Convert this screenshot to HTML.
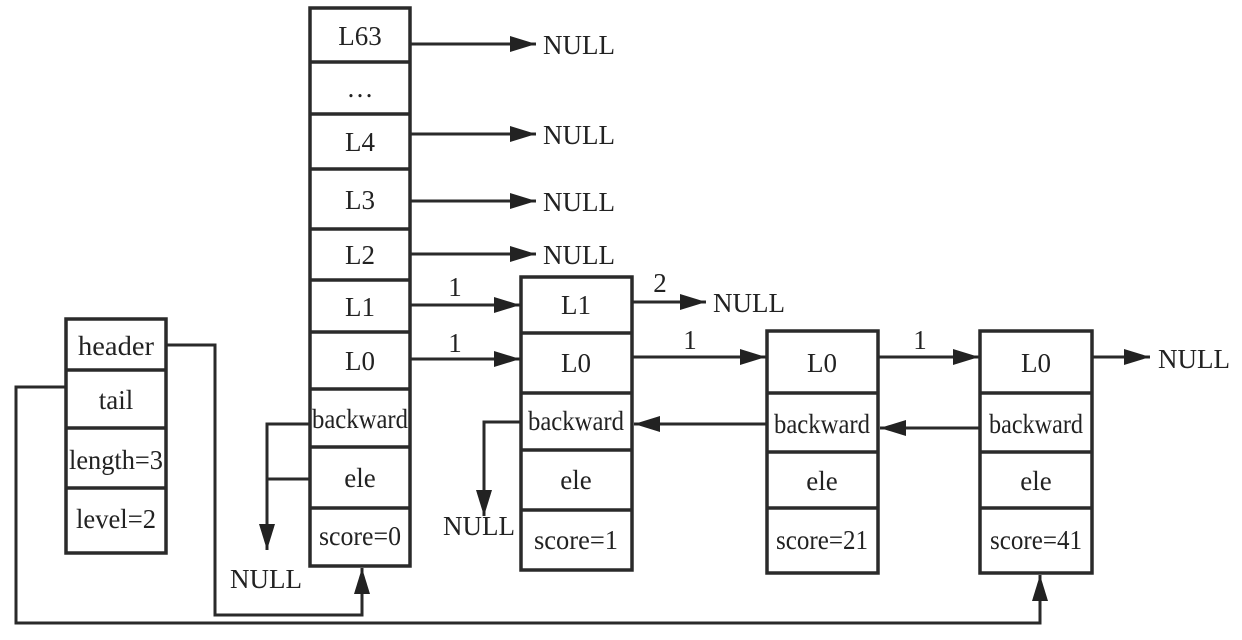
<!DOCTYPE html>
<html><head><meta charset="utf-8"><style>
html,body{margin:0;padding:0;background:#fff;}
svg text{font-family:"Liberation Serif",serif;font-size:27px;fill:#222;}
</style></head><body>
<svg width="1242" height="635" viewBox="0 0 1242 635" xmlns="http://www.w3.org/2000/svg">
<defs>
<marker id="b" viewBox="0 0 26 16" refX="26" refY="8" markerWidth="26" markerHeight="16" orient="auto" markerUnits="userSpaceOnUse">
<path d="M0,0 L26,8 L0,16 z" fill="#222"/></marker>
</defs>
<g stroke="#2a2a2a" stroke-width="3.5" fill="none">
<rect x="66" y="319" width="100" height="234"/>
<line x1="66" y1="370" x2="166" y2="370"/><line x1="66" y1="428" x2="166" y2="428"/><line x1="66" y1="488" x2="166" y2="488"/>
<rect x="310" y="8" width="100" height="558"/>
<line x1="310" y1="62" x2="410" y2="62"/><line x1="310" y1="114" x2="410" y2="114"/><line x1="310" y1="169" x2="410" y2="169"/>
<line x1="310" y1="229" x2="410" y2="229"/><line x1="310" y1="280" x2="410" y2="280"/><line x1="310" y1="332" x2="410" y2="332"/>
<line x1="310" y1="389" x2="410" y2="389"/><line x1="310" y1="447" x2="410" y2="447"/><line x1="310" y1="508" x2="410" y2="508"/>
<rect x="521" y="277" width="111" height="293"/>
<line x1="521" y1="333" x2="632" y2="333"/><line x1="521" y1="393" x2="632" y2="393"/><line x1="521" y1="450" x2="632" y2="450"/><line x1="521" y1="510" x2="632" y2="510"/>
<rect x="767" y="331" width="111" height="242"/>
<line x1="767" y1="393" x2="878" y2="393"/><line x1="767" y1="452" x2="878" y2="452"/><line x1="767" y1="508" x2="878" y2="508"/>
<rect x="980" y="331" width="112" height="242"/>
<line x1="980" y1="393" x2="1092" y2="393"/><line x1="980" y1="452" x2="1092" y2="452"/><line x1="980" y1="508" x2="1092" y2="508"/>
</g>
<g stroke="#2a2a2a" stroke-width="3" fill="none">
<line x1="410" y1="44" x2="536" y2="44" marker-end="url(#b)"/>
<line x1="410" y1="134" x2="536" y2="134" marker-end="url(#b)"/>
<line x1="410" y1="201" x2="536" y2="201" marker-end="url(#b)"/>
<line x1="410" y1="254" x2="536" y2="254" marker-end="url(#b)"/>
<line x1="410" y1="305" x2="520" y2="305" marker-end="url(#b)"/>
<line x1="410" y1="359" x2="520" y2="359" marker-end="url(#b)"/>
<line x1="632" y1="302" x2="706" y2="302" marker-end="url(#b)"/>
<line x1="632" y1="357" x2="766" y2="357" marker-end="url(#b)"/>
<line x1="878" y1="357" x2="979" y2="357" marker-end="url(#b)"/>
<line x1="1092" y1="357" x2="1150" y2="357" marker-end="url(#b)"/>
<line x1="767" y1="424" x2="634" y2="424" marker-end="url(#b)"/>
<line x1="980" y1="428" x2="880" y2="428" marker-end="url(#b)"/>
<polyline points="310,424 267,424 267,550" marker-end="url(#b)"/>
<line x1="310" y1="479" x2="267" y2="479"/>
<polyline points="521,422 484,422 484,516" marker-end="url(#b)"/>
<polyline points="166,345 215,345 215,615 362,615 362,568" marker-end="url(#b)"/>
<polyline points="66,387 16,387 16,623 1040,623 1040,575" marker-end="url(#b)"/>
</g>
<g text-anchor="middle">
<text x="116" y="355" textLength="76" lengthAdjust="spacingAndGlyphs">header</text><text x="116" y="409">tail</text><text x="116" y="469" textLength="94" lengthAdjust="spacingAndGlyphs">length=3</text><text x="116" y="528" textLength="80" lengthAdjust="spacingAndGlyphs">level=2</text>
<text x="360" y="45">L63</text><text x="360" y="97">…</text><text x="360" y="151">L4</text><text x="360" y="209">L3</text>
<text x="360" y="264">L2</text><text x="360" y="316">L1</text><text x="360" y="370">L0</text><text x="360" y="428" textLength="96" lengthAdjust="spacingAndGlyphs">backward</text>
<text x="360" y="487">ele</text><text x="360" y="545" textLength="82" lengthAdjust="spacingAndGlyphs">score=0</text>
<text x="576" y="314">L1</text><text x="576" y="372">L0</text><text x="576" y="430" textLength="96" lengthAdjust="spacingAndGlyphs">backward</text><text x="576" y="489">ele</text><text x="576" y="549" textLength="84" lengthAdjust="spacingAndGlyphs">score=1</text>
<text x="822" y="372">L0</text><text x="822" y="433" textLength="96" lengthAdjust="spacingAndGlyphs">backward</text><text x="822" y="490">ele</text><text x="822" y="549" textLength="92" lengthAdjust="spacingAndGlyphs">score=21</text>
<text x="1036" y="372">L0</text><text x="1036" y="433" textLength="94" lengthAdjust="spacingAndGlyphs">backward</text><text x="1036" y="490">ele</text><text x="1036" y="549" textLength="92" lengthAdjust="spacingAndGlyphs">score=41</text>
<text x="455" y="296">1</text><text x="455" y="352">1</text><text x="660" y="292">2</text><text x="690" y="349">1</text><text x="920" y="349">1</text>
</g>
<g>
<text x="543" y="54">NULL</text><text x="543" y="144">NULL</text><text x="543" y="211">NULL</text><text x="543" y="264">NULL</text>
<text x="713" y="312">NULL</text><text x="1158" y="368">NULL</text>
<text x="230" y="588">NULL</text><text x="443" y="535">NULL</text>
</g>
</svg>
</body></html>
